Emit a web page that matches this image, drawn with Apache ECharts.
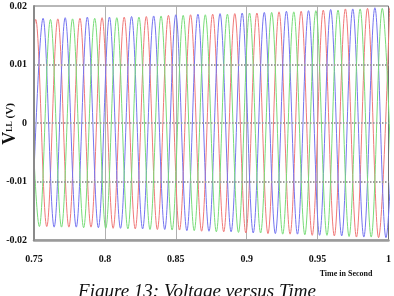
<!DOCTYPE html>
<html>
<head>
<meta charset="utf-8">
<script src="https://cdn.jsdelivr.net/npm/echarts@6/dist/echarts.min.js"></script>
<style>
html,body{margin:0;padding:0;background:#fff;}
#c{width:394px;height:296px;}
</style>
</head>
<body>
<div id="c"></div>
<script>
const timeLabels = ['0.75', '0.8', '0.85', '0.9', '0.95', '1'];
const voltLabels = ['-0.02', '-0.01', '0', '0.01', '0.02'];

// Phase A (red): extrema times and values
const redT = [0.7434,0.7512,0.7590,0.7668,0.7746,0.7824,0.7902,0.7980,0.8058,0.8136,0.8214,0.8292,0.8370,0.8448,0.8526,0.8604,0.8682,0.8760,0.8838,0.8916,0.8994,0.9072,0.9150,0.9228,0.9306,0.9384,0.9462,0.9540,0.9618,0.9696,0.9774,0.9852,0.9930,1.0008];
const redV = [-0.0176,0.0177,-0.0177,0.0178,-0.0178,0.0179,-0.0178,0.0180,-0.0180,0.0181,-0.0181,0.0182,-0.0182,0.0184,-0.0183,0.0185,-0.0185,0.0186,-0.0186,0.0187,-0.0188,0.0188,-0.0189,0.0190,-0.0190,0.0191,-0.0192,0.0193,-0.0193,0.0195,-0.0195,0.0196,-0.0196,0.0197];

// Phase B (blue)
const blueT = [0.7486,0.7564,0.7642,0.7720,0.7798,0.7876,0.7954,0.8032,0.8110,0.8188,0.8266,0.8344,0.8422,0.8500,0.8578,0.8656,0.8734,0.8812,0.8890,0.8968,0.9046,0.9124,0.9202,0.9280,0.9358,0.9436,0.9514,0.9592,0.9670,0.9748,0.9826,0.9904,0.9982,1.0060];
const blueV = [-0.0177,0.0179,-0.0178,0.0180,-0.0178,0.0181,-0.0179,0.0181,-0.0180,0.0182,-0.0181,0.0183,-0.0182,0.0185,-0.0184,0.0186,-0.0185,0.0187,-0.0186,0.0188,-0.0188,0.0189,-0.0189,0.0191,-0.0190,0.0192,-0.0192,0.0194,-0.0193,0.0195,-0.0195,0.0197,-0.0196,0.0197];

// Phase C (green)
const greenT = [0.7460,0.7538,0.7616,0.7694,0.7772,0.7850,0.7928,0.8006,0.8084,0.8162,0.8240,0.8318,0.8396,0.8474,0.8552,0.8630,0.8708,0.8786,0.8864,0.8942,0.9020,0.9098,0.9176,0.9254,0.9332,0.9410,0.9488,0.9566,0.9644,0.9722,0.9800,0.9878,0.9956,1.0034];
const greenV = [0.0176,-0.0177,0.0177,-0.0178,0.0178,-0.0179,0.0179,-0.0180,0.0180,-0.0181,0.0181,-0.0182,0.0183,-0.0183,0.0184,-0.0184,0.0185,-0.0186,0.0186,-0.0187,0.0188,-0.0188,0.0189,-0.0190,0.0190,-0.0191,0.0192,-0.0192,0.0193,-0.0194,0.0195,-0.0195,0.0196,-0.0197];

const serif = "'Liberation Serif', 'Times New Roman', serif";
const pair = (t, v) => t.map((x, i) => [x, v[i]]);

const chart = echarts.init(document.getElementById('c'), null, {renderer: 'canvas'});

function wave(name, t, v, color) {
  return {
    name: name, type: 'line', data: pair(t, v), smooth: 0.36,
    showSymbol: false, symbol: 'none', clip: true, z: 2,
    lineStyle: {color: color, width: 1}
  };
}

chart.setOption({
  animation: false,
  backgroundColor: '#fff',
  grid: {left: 34, right: 5, top: 6, bottom: 56, show: true, borderColor: '#707070', borderWidth: 1, backgroundColor: 'transparent'},
  xAxis: {
    type: 'value', min: 0.75, max: 1, interval: 0.05,
    axisLine: {show: true, onZero: false, lineStyle: {color: '#9a9a9a', width: 2.5}},
    axisTick: {show: false},
    splitLine: {show: true, showMinLine: false, showMaxLine: false, lineStyle: {color: '#b0b0b0', width: 1}},
    axisLabel: {
      margin: 14, color: '#111', fontFamily: serif, fontSize: 10, fontWeight: 'bold',
      formatter: v => timeLabels[Math.round((v - 0.75) / 0.05)]
    }
  },
  yAxis: {
    type: 'value', min: -0.02, max: 0.02, interval: 0.01, z: 3,
    axisLine: {show: true, onZero: false, lineStyle: {color: '#8a8a8a', width: 2}},
    axisTick: {show: false},
    splitLine: {show: true, showMinLine: false, showMaxLine: false, lineStyle: {color: '#a0a0a0', width: 2, type: [1.5, 1.5]}},
    axisLabel: {
      margin: 7, color: '#111', fontFamily: serif, fontSize: 10, fontWeight: 'bold',
      formatter: v => voltLabels[Math.round((v + 0.02) / 0.01)]
    }
  },
  series: [
    wave('A', redT, redV, '#f07878'),
    wave('B', blueT, blueV, '#7474f0'),
    wave('C', greenT, greenV, '#78dc78')
  ],
  graphic: [
    {
      type: 'text', x: 10, y: 124, rotation: Math.PI / 2,
      style: {
        text: '{v|V}{s|LL} {p|(V)}', align: 'center', verticalAlign: 'middle',
        fill: '#111', font: 'bold 11px ' + serif,
        rich: {
          v: {fontSize: 18, fontWeight: 'bold', fontFamily: serif, fill: '#111'},
          s: {fontSize: 8, fontWeight: 'bold', fontFamily: serif, fill: '#111'},
          p: {fontSize: 11, fontWeight: 'bold', fontFamily: serif, fill: '#111'}
        }
      }
    },
    {
      type: 'text', x: 346, y: 274,
      style: {text: 'Time in Second', align: 'center', verticalAlign: 'middle', fill: '#111', font: 'bold 8px ' + serif}
    },
    {
      type: 'text', x: 197, y: 301,
      style: {text: 'Figure 13: Voltage versus Time', align: 'center', verticalAlign: 'bottom', fill: '#111', font: 'italic 19px ' + serif}
    }
  ]
});
</script>
</body>
</html>
